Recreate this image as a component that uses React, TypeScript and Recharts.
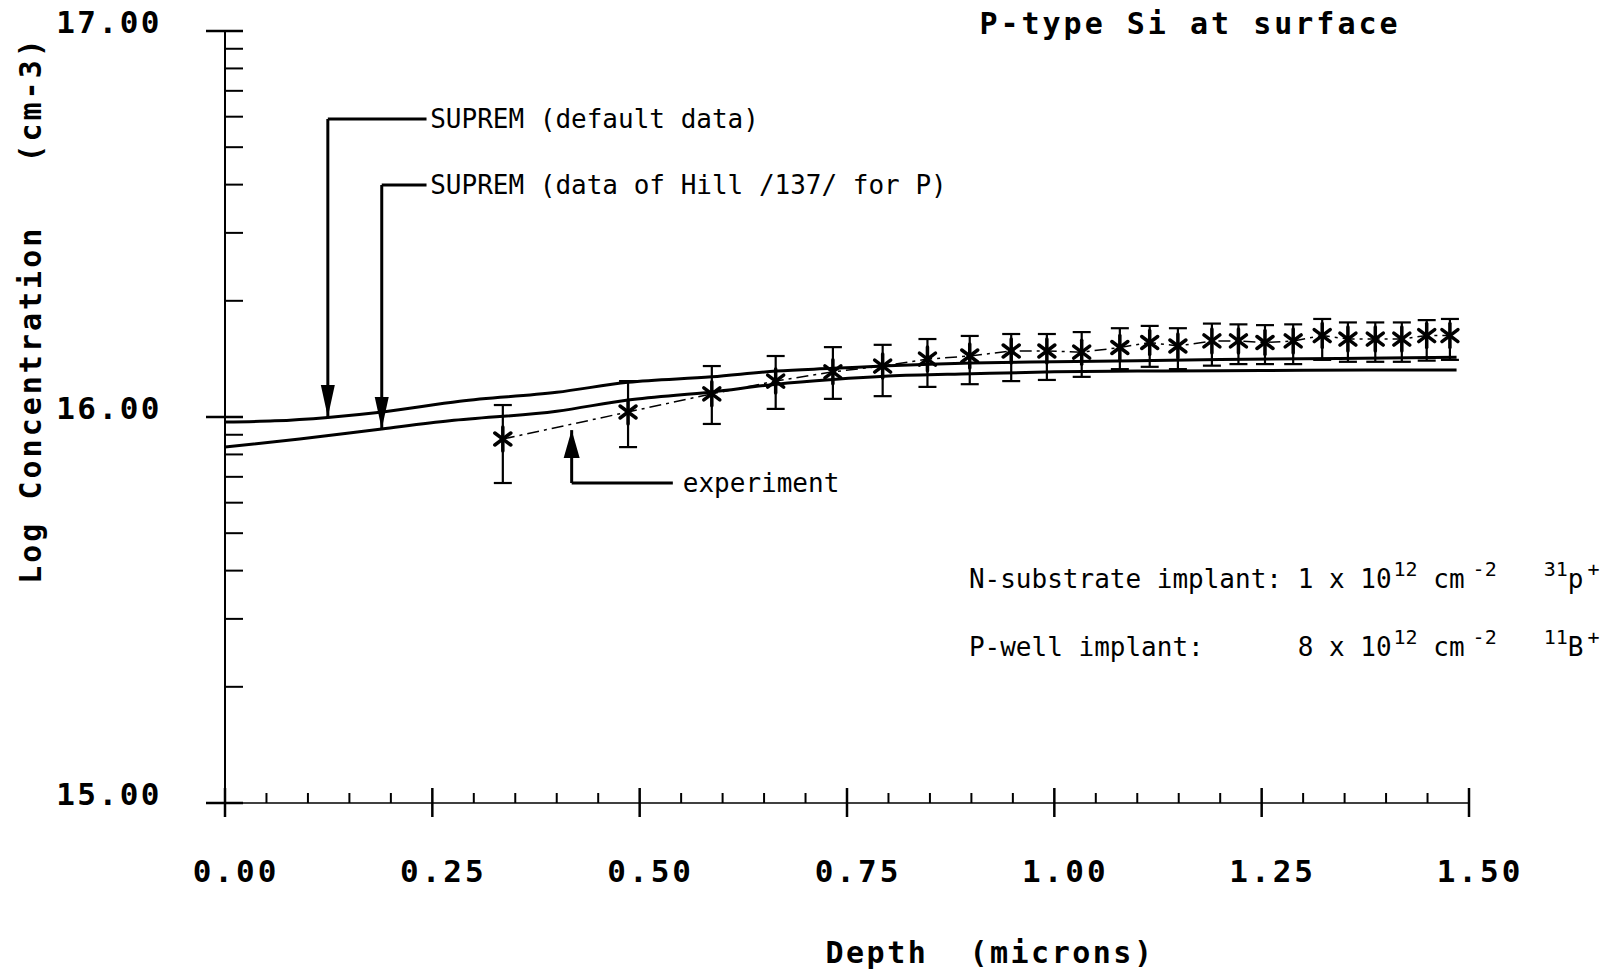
import React from 'react';
import {
  ComposedChart,
  XAxis,
  YAxis,
  Line,
  Scatter,
  ErrorBar,
  ReferenceLine,
  ReferenceDot,
  Customized,
} from 'recharts';

// ---------- axis ticks ----------
const depthMajorTicks = [0, 0.25, 0.5, 0.75, 1.0, 1.25, 1.5];
const depthTickLabels = ['0.00', '0.25', '0.50', '0.75', '1.00', '1.25', '1.50'];
const depthMinorTicks = [
  0.05, 0.1, 0.15, 0.2, 0.3, 0.35, 0.4, 0.45, 0.55, 0.6, 0.65, 0.7, 0.8, 0.85, 0.9, 0.95,
  1.05, 1.1, 1.15, 1.2, 1.3, 1.35, 1.4, 1.45,
];
const logMajorTicks = [15, 16, 17];
const logTickLabels = ['15.00', '16.00', '17.00'];
const logMinorTicks = [
  15.301, 15.477, 15.602, 15.699, 15.778, 15.845, 15.903, 15.954,
  16.301, 16.477, 16.602, 16.699, 16.778, 16.845, 16.903, 16.954,
];

// ---------- experiment (asterisks with error bars) ----------
const expDepth = [
  0.335, 0.486, 0.587, 0.664, 0.733, 0.793, 0.847, 0.898, 0.948, 0.991, 1.033, 1.079,
  1.115, 1.149, 1.19, 1.222, 1.254, 1.288, 1.323, 1.354, 1.387, 1.419, 1.449, 1.477,
];
const expValue = [
  15.943, 16.013, 16.06, 16.093, 16.117, 16.132, 16.15, 16.158, 16.171, 16.171, 16.168, 16.18,
  16.193, 16.184, 16.197, 16.197, 16.193, 16.197, 16.211, 16.202, 16.202, 16.202, 16.211, 16.211,
];
const expUpper = [
  16.031, 16.093, 16.132, 16.158, 16.181, 16.187, 16.202, 16.21, 16.215, 16.215, 16.22, 16.23,
  16.236, 16.23, 16.242, 16.24, 16.238, 16.24, 16.254, 16.245, 16.245, 16.245, 16.251, 16.254,
];
const expLower = [
  15.829, 15.922, 15.982, 16.021, 16.047, 16.054, 16.078, 16.085, 16.093, 16.096, 16.104, 16.124,
  16.13, 16.124, 16.133, 16.137, 16.137, 16.137, 16.148, 16.143, 16.143, 16.143, 16.146, 16.148,
];

// ---------- SUPREM simulations ----------
const defaultDepth = [0, 0.06, 0.124, 0.19, 0.283, 0.4, 0.486, 0.587, 0.665, 0.733, 0.8, 0.9, 1.0, 1.1, 1.2, 1.3, 1.4, 1.485];
const defaultValue = [15.987, 15.99, 15.999, 16.013, 16.041, 16.064, 16.09, 16.104, 16.119, 16.126, 16.133, 16.14, 16.143, 16.146, 16.149, 16.151, 16.153, 16.155];
const hillDepth = [0, 0.09, 0.189, 0.271, 0.4, 0.486, 0.587, 0.665, 0.733, 0.8, 0.9, 1.0, 1.1, 1.2, 1.3, 1.4, 1.485];
const hillValue = [15.922, 15.943, 15.969, 15.99, 16.015, 16.044, 16.065, 16.085, 16.097, 16.106, 16.112, 16.117, 16.119, 16.12, 16.121, 16.122, 16.122];

// ---------- annotation anchors (data coordinates) ----------
const defaultArrow = { x: 0.124, top: 16.772, tip: 16.0, textX: 0.245 };
const hillArrow = { x: 0.189, top: 16.601, tip: 15.969, textX: 0.245 };
const expArrow = { x: 0.418, tip: 15.966, bottom: 15.829, textX: 0.552 };
const implantPos = { x: 0.897, row1: 15.58, row2: 15.404 };
const annotationLabels = ['SUPREM (default data)', 'SUPREM (data of Hill /137/ for P)', 'experiment'];

const expData = expDepth.map((x, i) => ({
  x,
  y: expValue[i],
  err: [expValue[i] - expLower[i], expUpper[i] - expValue[i]],
}));
const defaultData = defaultDepth.map((x, i) => ({ x, y: defaultValue[i] }));
const hillData = hillDepth.map((x, i) => ({ x, y: hillValue[i] }));

const MONO = 'DejaVu Sans Mono';
const allX = [...depthMajorTicks, ...depthMinorTicks].sort((a, b) => a - b);
const allY = [...logMajorTicks, ...logMinorTicks].sort((a, b) => a - b);

const XTick = (props: any) => {
  const { x, y, payload } = props;
  const idx = depthMajorTicks.indexOf(payload.value);
  if (idx >= 0) {
    return (
      <g>
        <line x1={x} x2={x} y1={y - 15} y2={y + 14} stroke="#000" strokeWidth={2.5} />
        <text x={x + 11} y={y + 68} textAnchor="middle" dominantBaseline="central" fontFamily={MONO} fontWeight="bold" fontSize={31} letterSpacing={3} fill="#000">
          {depthTickLabels[idx]}
        </text>
      </g>
    );
  }
  return <line x1={x} x2={x} y1={y} y2={y - 10} stroke="#000" strokeWidth={2} />;
};

const YTick = (props: any) => {
  const { x, y, payload } = props;
  const idx = logMajorTicks.indexOf(payload.value);
  if (idx >= 0) {
    return (
      <g>
        <line x1={x - 19} x2={x + 18} y1={y} y2={y} stroke="#000" strokeWidth={2.5} />
        <text x={x - 63} y={y - 9} textAnchor="end" dominantBaseline="central" fontFamily={MONO} fontWeight="bold" fontSize={31} letterSpacing={2.5} fill="#000">
          {logTickLabels[idx]}
        </text>
      </g>
    );
  }
  return <line x1={x} x2={x + 18} y1={y} y2={y} stroke="#000" strokeWidth={2} />;
};

const Star = (props: any) => {
  const { cx, cy } = props;
  if (cx == null || cy == null) return null;
  return (
    <g stroke="#000" strokeWidth={3.5} strokeLinecap="round">
      <line x1={cx} y1={cy - 12} x2={cx} y2={cy + 12} />
      <line x1={cx - 8} y1={cy - 6} x2={cx + 8} y2={cy + 6} />
      <line x1={cx - 8} y1={cy + 6} x2={cx + 8} y2={cy - 6} />
    </g>
  );
};

const DownHead = (props: any) => {
  const { cx, cy } = props;
  return <path d={`M${cx},${cy} L${cx - 7},${cy - 32} L${cx + 7},${cy - 32} Z`} fill="#000" />;
};
const UpHead = (props: any) => {
  const { cx, cy } = props;
  return <path d={`M${cx},${cy} L${cx - 8},${cy + 28} L${cx + 8},${cy + 28} Z`} fill="#000" />;
};

const makeLabel = (text: string, dx: number) => (props: any) => {
  const { cx, cy } = props;
  return (
    <text x={cx + dx} y={cy} dominantBaseline="central" fontFamily={MONO} fontSize={26} fill="#000" style={{ whiteSpace: 'pre' }}>
      {text}
    </text>
  );
};

const Implant1 = (props: any) => {
  const { cx, cy } = props;
  return (
    <text x={cx} y={cy} dominantBaseline="central" fontFamily={MONO} fontSize={26} fill="#000" style={{ whiteSpace: 'pre' }}>
      N-substrate implant: 1 x 10
      <tspan dx={2} dy={-10} fontSize={20}>12</tspan>
      <tspan dy={10}> cm</tspan>
      <tspan dx={8} dy={-10} fontSize={20}>-2</tspan>
      <tspan dy={10}>   </tspan>
      <tspan dy={-10} fontSize={20}>31</tspan>
      <tspan dy={10}>p</tspan>
      <tspan dx={4} dy={-10} fontSize={20}>+</tspan>
    </text>
  );
};
const Implant2 = (props: any) => {
  const { cx, cy } = props;
  return (
    <text x={cx} y={cy} dominantBaseline="central" fontFamily={MONO} fontSize={26} fill="#000" style={{ whiteSpace: 'pre' }}>
      P-well implant:      8 x 10
      <tspan dx={2} dy={-10} fontSize={20}>12</tspan>
      <tspan dy={10}> cm</tspan>
      <tspan dx={8} dy={-10} fontSize={20}>-2</tspan>
      <tspan dy={10}>   </tspan>
      <tspan dy={-10} fontSize={20}>11</tspan>
      <tspan dy={10}>B</tspan>
      <tspan dx={4} dy={-10} fontSize={20}>+</tspan>
    </text>
  );
};

const TextLayer = () => (
  <g fontFamily={MONO} fontWeight="bold" fill="#000">
    <text x={1190} y={23} textAnchor="middle" dominantBaseline="central" fontSize={30} letterSpacing={3}>
      P-type Si at surface
    </text>
    <text
      transform="translate(30,310) rotate(-90)"
      textAnchor="middle"
      dominantBaseline="central"
      fontSize={30}
      letterSpacing={3}
      style={{ whiteSpace: 'pre' }}
    >
      Log Concentration   (cm-3)
    </text>
    <text x={990} y={952} textAnchor="middle" dominantBaseline="central" fontSize={30} letterSpacing={2.5} style={{ whiteSpace: 'pre' }}>
      Depth  (microns)
    </text>
  </g>
);

export default function App() {
  return (
    <div style={{ position: 'absolute', left: 0, top: 0, background: '#fff' }}>
      <ComposedChart width={1619} height={972} margin={{ top: 31, right: 150, bottom: 0, left: 0 }}>
        <XAxis
          type="number"
          dataKey="x"
          domain={[0, 1.5]}
          ticks={allX}
          interval={0}
          height={169}
          tick={<XTick />}
          tickLine={false}
          tickSize={0}
          tickMargin={0}
          axisLine={{ stroke: '#000', strokeWidth: 1.5 }}
          allowDataOverflow
        />
        <YAxis
          type="number"
          domain={[15, 17]}
          ticks={allY}
          interval={0}
          width={225}
          tick={<YTick />}
          tickLine={false}
          tickSize={0}
          tickMargin={0}
          axisLine={{ stroke: '#000', strokeWidth: 2 }}
          allowDataOverflow
        />
        <Line data={defaultData} dataKey="y" type="monotone" stroke="#000" strokeWidth={3} dot={false} isAnimationActive={false} />
        <Line data={hillData} dataKey="y" type="monotone" stroke="#000" strokeWidth={3} dot={false} isAnimationActive={false} />
        <Line data={expData} dataKey="y" type="linear" stroke="#000" strokeWidth={1.5} strokeDasharray="12 5 3 5" dot={false} isAnimationActive={false} />
        <Scatter data={expData} dataKey="y" shape={<Star />} isAnimationActive={false}>
          <ErrorBar dataKey="err" direction="y" width={9} stroke="#000" strokeWidth={2.2} />
        </Scatter>

        {/* SUPREM default data arrow */}
        <ReferenceLine segment={[{ x: defaultArrow.x, y: defaultArrow.top }, { x: defaultArrow.x, y: defaultArrow.tip }]} stroke="#000" strokeWidth={3} ifOverflow="visible" />
        <ReferenceLine segment={[{ x: defaultArrow.x, y: defaultArrow.top }, { x: defaultArrow.textX - 0.002, y: defaultArrow.top }]} stroke="#000" strokeWidth={3} ifOverflow="visible" />
        <ReferenceDot x={defaultArrow.x} y={defaultArrow.tip} r={1} shape={<DownHead />} ifOverflow="visible" />
        <ReferenceDot x={defaultArrow.textX} y={defaultArrow.top} r={1} shape={makeLabel(annotationLabels[0], 2)} ifOverflow="visible" />

        {/* SUPREM Hill arrow */}
        <ReferenceLine segment={[{ x: hillArrow.x, y: hillArrow.top }, { x: hillArrow.x, y: hillArrow.tip }]} stroke="#000" strokeWidth={3} ifOverflow="visible" />
        <ReferenceLine segment={[{ x: hillArrow.x, y: hillArrow.top }, { x: hillArrow.textX - 0.002, y: hillArrow.top }]} stroke="#000" strokeWidth={3} ifOverflow="visible" />
        <ReferenceDot x={hillArrow.x} y={hillArrow.tip} r={1} shape={<DownHead />} ifOverflow="visible" />
        <ReferenceDot x={hillArrow.textX} y={hillArrow.top} r={1} shape={makeLabel(annotationLabels[1], 2)} ifOverflow="visible" />

        {/* experiment arrow */}
        <ReferenceLine segment={[{ x: expArrow.x, y: expArrow.bottom }, { x: expArrow.x, y: expArrow.tip }]} stroke="#000" strokeWidth={3} ifOverflow="visible" />
        <ReferenceLine segment={[{ x: expArrow.x, y: expArrow.bottom }, { x: expArrow.textX - 0.012, y: expArrow.bottom }]} stroke="#000" strokeWidth={3} ifOverflow="visible" />
        <ReferenceDot x={expArrow.x} y={expArrow.tip} r={1} shape={<UpHead />} ifOverflow="visible" />
        <ReferenceDot x={expArrow.textX} y={expArrow.bottom} r={1} shape={makeLabel(annotationLabels[2], 0)} ifOverflow="visible" />

        {/* implant notes */}
        <ReferenceDot x={implantPos.x} y={implantPos.row1} r={1} shape={<Implant1 />} ifOverflow="visible" />
        <ReferenceDot x={implantPos.x} y={implantPos.row2} r={1} shape={<Implant2 />} ifOverflow="visible" />

        <Customized component={TextLayer} />
      </ComposedChart>
    </div>
  );
}
